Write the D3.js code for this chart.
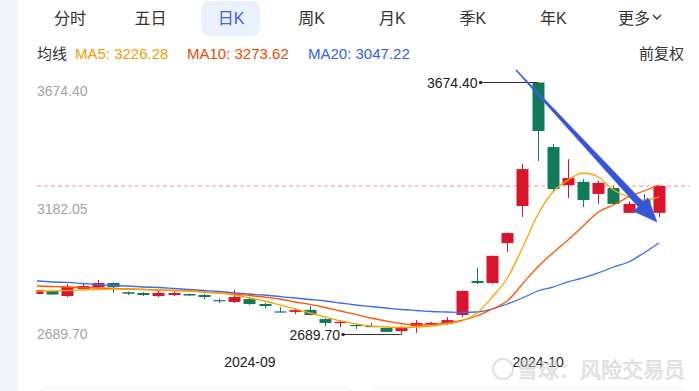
<!DOCTYPE html>
<html>
<head>
<meta charset="utf-8">
<script src="https://cdn.jsdelivr.net/npm/d3@7"></script>
<style>
  body { margin: 0; background: #fff; }
  svg { display: block; font-family: "Liberation Sans", Arial, "Noto Sans CJK SC", sans-serif; }
</style>
</head>
<body>
<div class="chart"></div>
<script>
// trading days shown (SSE index, daily)
const dates = [
  '2024-08-13','2024-08-14','2024-08-15','2024-08-16','2024-08-19','2024-08-20','2024-08-21',
  '2024-08-22','2024-08-23','2024-08-26','2024-08-27','2024-08-28','2024-08-29','2024-08-30',
  '2024-09-02','2024-09-03','2024-09-04','2024-09-05','2024-09-06','2024-09-09','2024-09-10',
  '2024-09-11','2024-09-12','2024-09-13','2024-09-18','2024-09-19','2024-09-20','2024-09-23',
  '2024-09-24','2024-09-25','2024-09-26','2024-09-27','2024-09-30','2024-10-08','2024-10-09',
  '2024-10-10','2024-10-11','2024-10-14','2024-10-15','2024-10-16','2024-10-17','2024-10-18'
]
const opens  = [2848,2860,2840,2868,2875,2891,2855,2852,2840,2844,2848,2844,2824,2817,2828,2809,2780,2778,2786,2750,2735,
                2727,2723,2715,2703,2723,2729,2731,2766,2899,2891,3047,3192,3674.40,3422,3274,3286,3239,3262,3165,3215,3165]
const closes = [2864,2846,2875,2879,2891,2875,2849,2844,2852,2852,2842,2836,2820,2836,2809,2801,2777,2785,2766,2735,2739,
                2723,2720,2700,2715,2735,2735,2746,2860,2891,2997,3086,3336,3485,3258,3301,3215,3282,3200,3200,3168,3270]
const highs  = [2864,2861,2887,2891,2903,2893,2857,2855,2860,2857,2849,2848,2828,2864,2836,2813,2797,2793,2801,2754,2746,
                2731,2735,2717,2723,2746,2739,2758,2862,2950,2998,3088,3356,3674.40,3434,3375,3297,3290,3270,3211,3238,3270]
const lows   = [2848,2845,2836,2866,2873,2852,2844,2840,2836,2840,2840,2828,2813,2813,2805,2793,2776,2770,2765,2723,2719,
                2711,2719,2698,2689.70,2696,2723,2727,2758,2887,2887,3012,3149,3368,3247,3223,3188,3200,3199,3164,3167,3149]

const ma5  = [2859.7,2859.7,2861.6,2863.6,2865.6,2867.5,2867.5,2865.6,2863.6,2861.6,2859.7,2855.8,2851.9,2844.0,2832.3,
              2820.6,2805.0,2789.4,2773.7,2758.1,2742.5,2730.8,2722.9,2719.0,2717.1,2719.0,2722.9,2730.8,2742.5,2773.7,
              2836.2,2910.5,3027.7,3156.6,3246.6,3293.4,3320.8,3305.2,3254.3,3227.0,3215.3,3226.28]
const ma10 = [2879.2,2877.3,2875.3,2873.4,2871.4,2869.5,2867.5,2865.6,2863.6,2861.6,2859.7,2855.8,2851.9,2848.0,2842.1,
              2836.2,2828.4,2816.7,2807.0,2795.2,2781.5,2768.0,2754.2,2742.5,2732.7,2726.8,2728.8,2734.7,2744.5,2762.0,
              2789.4,2820.6,2887.0,2953.5,3008.2,3059.0,3113.7,3168.4,3195.7,3227.0,3250.4,3273.62]
const ma20 = [2898.8,2894.9,2893.0,2889.0,2885.1,2881.2,2879.2,2875.3,2873.4,2869.5,2865.6,2861.6,2857.7,2851.9,2848.0,
              2844.0,2838.2,2832.3,2826.5,2820.6,2812.8,2805.0,2799.1,2793.3,2787.4,2783.5,2779.6,2777.6,2775.7,2777.6,
              2789.4,2808.9,2832.3,2859.7,2875.3,2894.9,2910.5,2930.1,2953.5,2973.0,3008.2,3047.22]

const yTicks = [2689.70, 3182.05, 3674.40]
const monthTicks = ['2024-09-02', '2024-10-08']
const monthLabels = ['2024-09', '2024-10']
const tabs = ['分时', '五日', '日K', '周K', '月K', '季K', '年K', '更多']
const activeTab = '日K'
const maNames = ['MA5', 'MA10', 'MA20']
const maLast = [3226.28, 3273.62, 3047.22]
const lastClose = 3270
// hand drawn arrow: [index, price] start and tip
const arrowFrom = [31.58, 3723]
const arrowTo = [40.87, 3129]

class KLineChart {

    constructor() {
        this.fullWidth = 699
        this.fullHeight = 391
        this.plot = {left: 37, right: 659, top: 82.5, bottom: 334.5}
        this.up = '#d9142c'
        this.down = '#0e7a5a'
        this.maColors = ['#ffa200', '#ff5500', '#3b6cf0']
        this.maText = ['#f59c00', '#f04a00', '#2f62ee']
    }

    render() {
        this.svg = this.createCanvas()
        this.createScales()
        this.createHeader()
        this.createAxes()
        this.createCandles()
        this.createMALines()
        this.createAnnotations()
        this.createArrow()
        this.createWatermark()
    }

    createCanvas() {
        let svg = d3.select('.chart')
            .append('svg')
            .attr('width', this.fullWidth)
            .attr('height', this.fullHeight)

        svg.append('rect').attr('width', 18).attr('height', this.fullHeight).attr('fill', '#f2f6fc')
        svg.append('clipPath').attr('id', 'plot-clip')
            .append('rect')
            .attr('x', this.plot.left - 0.5).attr('y', 0)
            .attr('width', 660).attr('height', this.fullHeight)

        // bottom panels peeking in
        svg.append('rect').attr('x', 40).attr('y', 387).attr('width', 312).attr('height', 20).attr('rx', 6)
            .attr('fill', '#fafbfc').attr('stroke', '#f0f1f3')
        svg.append('rect').attr('x', 371).attr('y', 387).attr('width', 312).attr('height', 20).attr('rx', 6)
            .attr('fill', '#fafbfc').attr('stroke', '#f0f1f3')
        return svg
    }

    createScales() {
        this.x = d3.scalePoint()
            .domain(dates)
            .range([this.plot.left, this.plot.right])
        this.y = d3.scaleLinear()
            .domain([yTicks[0], yTicks[yTicks.length - 1]])
            .range([this.plot.bottom, this.plot.top])
        this.xi = i => this.x(dates[0]) + i * this.x.step()
    }

    createHeader() {
        let tabX = d3.scalePoint().domain(tabs).range([70, 634])

        this.svg.append('rect')
            .attr('x', tabX(activeTab) - 30).attr('y', 1)
            .attr('width', 59).attr('height', 35).attr('rx', 8)
            .attr('fill', '#ebf0fd')

        this.svg.append('g').selectAll('text')
            .data(tabs)
            .join('text')
                .attr('x', d => tabX(d))
                .attr('y', 24)
                .attr('text-anchor', 'middle')
                .attr('font-size', 16)
                .attr('fill', d => d === activeTab ? '#3a62e4' : '#333')
                .text(d => d)

        let more = tabX('更多')
        this.svg.append('path')
            .attr('d', `M${more + 19},15 l4,4 l4,-4`)
            .attr('fill', 'none').attr('stroke', '#333').attr('stroke-width', 1.3)

        let legend = this.svg.append('g').attr('font-size', 15)
        legend.append('text').attr('x', 37).attr('y', 59).attr('fill', '#333').text('均线')
        let legendX = [75, 187, 308]
        legend.selectAll('text.ma')
            .data(maNames)
            .join('text')
                .attr('class', 'ma')
                .attr('x', (d, i) => legendX[i])
                .attr('y', 59)
                .attr('fill', (d, i) => this.maText[i])
                .text((d, i) => `${d}: ${maLast[i].toFixed(2)}`)
        legend.append('text').attr('x', 684).attr('y', 59).attr('text-anchor', 'end')
            .attr('fill', '#333').text('前复权')
    }

    createAxes() {
        let yAxis = d3.axisRight(this.y)
            .tickValues(yTicks)
            .tickSize(0)
            .tickPadding(0)
            .tickFormat(d3.format('.2f'))

        let gy = this.svg.append('g')
            .attr('transform', `translate(${this.plot.left}, 0)`)
            .call(yAxis)
        gy.select('.domain').remove()
        gy.selectAll('text')
            .attr('font-size', 14)
            .attr('font-family', null)
            .attr('fill', '#a0a4ab')
            .attr('dy', (d, i) => i === yTicks.length - 1 ? 12.5 : i === 0 ? 3.5 : 4.5)

        let xAxis = d3.axisBottom(this.x)
            .tickValues(monthTicks)
            .tickSize(0)
            .tickPadding(3)
            .tickFormat((d, i) => monthLabels[i])

        let gx = this.svg.append('g')
            .attr('transform', `translate(0, 354)`)
            .call(xAxis)
        gx.select('.domain').remove()
        gx.selectAll('text')
            .attr('font-size', 14)
            .attr('font-family', null)
            .attr('fill', '#222')

        // last close line
        this.svg.append('line')
            .attr('x1', this.plot.left).attr('x2', 690)
            .attr('y1', this.y(lastClose)).attr('y2', this.y(lastClose))
            .attr('stroke', '#f3929c').attr('stroke-width', 1)
            .attr('stroke-dasharray', '4,3')
    }

    createCandles() {
        let bw = this.x.step() * 0.79
        let g = this.svg.append('g').attr('clip-path', 'url(#plot-clip)')
        let color = i => closes[i] >= opens[i] ? this.up : this.down

        g.selectAll('line.wick')
            .data(dates)
            .join('line')
                .attr('class', 'wick')
                .attr('x1', d => Math.round(this.x(d)) + 0.5)
                .attr('x2', d => Math.round(this.x(d)) + 0.5)
                .attr('y1', (d, i) => this.y(highs[i]))
                .attr('y2', (d, i) => this.y(lows[i]))
                .attr('stroke', (d, i) => color(i))
                .attr('stroke-width', 1)

        g.selectAll('rect.body')
            .data(dates)
            .join('rect')
                .attr('class', 'body')
                .attr('x', d => Math.round(this.x(d)) + 0.5 - bw / 2)
                .attr('width', bw)
                .attr('y', (d, i) => this.y(Math.max(opens[i], closes[i])))
                .attr('height', (d, i) => Math.max(1.2, Math.abs(this.y(opens[i]) - this.y(closes[i]))))
                .attr('fill', (d, i) => color(i))
    }

    createMALines() {
        let g = this.svg.append('g').attr('clip-path', 'url(#plot-clip)')
        let line = d3.line()
            .x((d, i) => this.x(dates[i]))
            .y(d => this.y(d))
            .curve(d3.curveMonotoneX)

        g.selectAll('path')
            .data([ma20, ma10, ma5])
            .join('path')
                .attr('d', line)
                .attr('fill', 'none')
                .attr('stroke', (d, i) => this.maColors[2 - i])
                .attr('stroke-width', 1.3)
    }

    createAnnotations() {
        let maxI = highs.indexOf(d3.max(highs))
        let minI = lows.indexOf(d3.min(lows))
        let marks = [
            {i: maxI, v: highs[maxI], off: -57},
            {i: minI, v: lows[minI], off: -58}
        ]
        let g = this.svg.append('g')
        marks.forEach(m => {
            let cx = this.x(dates[m.i])
            let cy = this.y(m.v)
            g.append('line')
                .attr('x1', cx + m.off).attr('x2', cx)
                .attr('y1', cy).attr('y2', cy)
                .attr('stroke', '#333').attr('stroke-width', 1)
            g.append('circle')
                .attr('cx', cx + m.off).attr('cy', cy).attr('r', 1.8)
                .attr('fill', '#333')
            g.append('text')
                .attr('x', cx + m.off - 3).attr('y', cy + 5)
                .attr('text-anchor', 'end')
                .attr('font-size', 14)
                .attr('fill', '#222')
                .text(m.v.toFixed(2))
        })
    }

    createArrow() {
        let p0 = [this.xi(arrowFrom[0]), this.y(arrowFrom[1])]
        let p1 = [this.xi(arrowTo[0]), this.y(arrowTo[1])]
        let dx = p1[0] - p0[0], dy = p1[1] - p0[1]
        let len = Math.hypot(dx, dy)
        let u = [dx / len, dy / len]
        let n = [-u[1], u[0]]
        let head = 24
        let base = [p1[0] - u[0] * head, p1[1] - u[1] * head]
        let pt = (p, w) => [p[0] + n[0] * w, p[1] + n[1] * w]
        let pts = [pt(p0, 0.5), pt(base, 3.5), pt(base, 10), p1, pt(base, -10), pt(base, -3.5), pt(p0, -0.5)]

        this.svg.append('path')
            .attr('d', d3.line()(pts) + 'Z')
            .attr('fill', '#3456d6')
            .attr('stroke', '#4a6be0')
            .attr('stroke-width', 0.6)
    }

    createWatermark() {
        let g = this.svg.append('g').attr('opacity', 0.55)
        g.append('circle').attr('cx', 503).attr('cy', 369).attr('r', 10)
            .attr('fill', 'none').attr('stroke', '#c8c8c8').attr('stroke-width', 2)
        g.append('text')
            .attr('x', 517).attr('y', 377)
            .attr('font-size', 21)
            .attr('fill', '#e2e2e2')
            .attr('stroke', '#b8b8b8')
            .attr('stroke-width', 0.7)
            .text('雪球：风险交易员')
    }

}

new KLineChart().render()
</script>
</body>
</html>
